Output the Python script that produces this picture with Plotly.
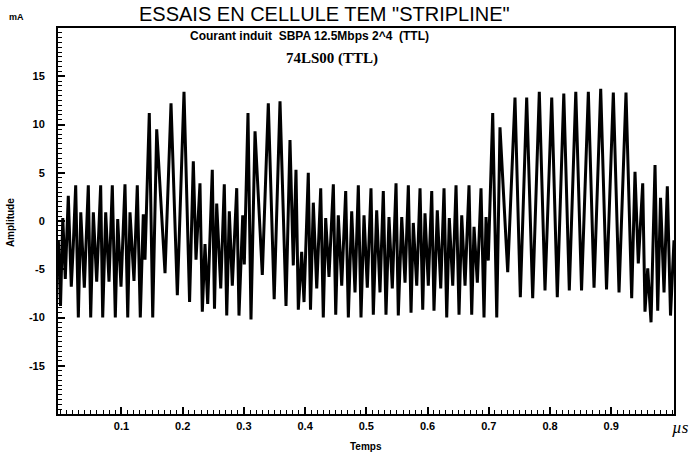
import plotly.graph_objects as go

# Induced current measured in the TEM cell (stripline), 74LS00 driven by a
# 12.5 Mbps 2^4 PRBS. Waveform given as its successive turning points.
temps_us = [
    -0.0030, 0.0005, 0.0042, 0.0083, 0.0132, 0.0181, 0.0214, 0.0253, 0.0296, 0.0336,
    0.0394, 0.0459, 0.0498, 0.0541, 0.0596, 0.0661, 0.0694, 0.0743, 0.0797, 0.0851,
    0.0900, 0.0939, 0.0993, 0.1058, 0.1103, 0.1140, 0.1205, 0.1259, 0.1308, 0.1357,
    0.1385, 0.1455, 0.1511, 0.1576, 0.1712, 0.1810, 0.1913, 0.2022, 0.2113, 0.2174,
    0.2218, 0.2283, 0.2321, 0.2365, 0.2409, 0.2484, 0.2520, 0.2556, 0.2622, 0.2680,
    0.2720, 0.2762, 0.2811, 0.2883, 0.2920, 0.2981, 0.3007, 0.3067, 0.3116, 0.3182,
    0.3301, 0.3399, 0.3495, 0.3590, 0.3688, 0.3753, 0.3807, 0.3851, 0.3889, 0.3944,
    0.3982, 0.4052, 0.4088, 0.4134, 0.4190, 0.4255, 0.4297, 0.4336, 0.4390, 0.4461,
    0.4500, 0.4542, 0.4598, 0.4663, 0.4706, 0.4761, 0.4815, 0.4869, 0.4913, 0.4962,
    0.5016, 0.5076, 0.5114, 0.5169, 0.5223, 0.5277, 0.5321, 0.5370, 0.5424, 0.5485,
    0.5522, 0.5578, 0.5632, 0.5686, 0.5730, 0.5767, 0.5823, 0.5877, 0.5921, 0.5958,
    0.6012, 0.6068, 0.6105, 0.6159, 0.6215, 0.6269, 0.6313, 0.6355, 0.6411, 0.6465,
    0.6514, 0.6558, 0.6612, 0.6677, 0.6721, 0.6759, 0.6813, 0.6873, 0.6922, 0.6955,
    0.6992, 0.7064, 0.7130, 0.7183, 0.7309, 0.7428, 0.7515, 0.7619, 0.7717, 0.7825,
    0.7918, 0.8028, 0.8119, 0.8225, 0.8315, 0.8421, 0.8515, 0.8626, 0.8719, 0.8828,
    0.8923, 0.9034, 0.9127, 0.9241, 0.9334, 0.9388, 0.9442, 0.9514, 0.9551, 0.9596,
    0.9650, 0.9715, 0.9759, 0.9805, 0.9862, 0.9916, 0.9968, 1.0025,
]
courant_mA = [
    -2.0, -8.8, 0.3, -6.0, 2.6, -6.8, -2.5, 3.7, -10.0, 0.9,
    -6.9, 3.7, -10.0, 0.9, -6.3, 3.7, -10.0, 0.9, -6.3, 3.7,
    -10.0, 0.2, -6.8, 3.8, -10.0, 0.9, -6.2, 3.7, -10.0, 0.7,
    -4.0, 11.2, -10.0, 9.5, -5.4, 12.2, -7.7, 13.4, -8.4, 6.2,
    -4.0, 3.9, -9.4, -2.4, -8.6, 5.3, -9.1, 1.8, -7.0, 3.8,
    -9.8, 1.0, -6.7, 3.4, -9.8, 0.6, -4.5, 11.2, -10.2, 9.3,
    -5.6, 12.2, -8.1, 12.4, -8.8, 8.4, -4.6, 5.3, -9.2, -3.2,
    -8.4, 5.0, -9.2, 1.9, -7.0, 3.4, -10.0, 0.3, -5.8, 3.8,
    -9.7, 0.6, -6.7, 3.1, -10.0, 1.0, -7.4, 3.7, -10.0, 0.6,
    -6.9, 3.4, -9.7, 1.1, -7.4, 3.1, -9.7, 0.4, -7.0, 3.9,
    -9.8, 0.4, -6.4, 3.7, -9.5, -0.2, -6.7, 3.4, -9.2, 0.8,
    -6.7, 3.1, -9.3, 1.1, -7.0, 3.4, -10.0, 0.3, -6.7, 3.7,
    -9.7, 0.6, -6.7, 3.7, -9.7, -0.6, -6.4, 3.4, -10.0, 0.4,
    -4.1, 11.2, -10.0, 9.7, -5.3, 12.8, -7.9, 12.8, -8.0, 13.4,
    -7.2, 12.8, -7.9, 13.2, -7.2, 13.4, -7.2, 13.4, -6.9, 13.7,
    -7.1, 13.3, -7.4, 13.3, -8.0, 5.1, -4.4, 3.9, -9.4, -4.9,
    -10.5, 5.8, -9.3, 2.4, -7.4, 3.6, -9.8, -2.0,
]

x_ticks = [0.1, 0.2, 0.3, 0.4, 0.5, 0.6, 0.7, 0.8, 0.9]
x_ticklabels = ["0.1", "0.2", "0.3", "0.4", "0.5", "0.6", "0.7", "0.8", "0.9"]
y_ticks = [-15, -10, -5, 0, 5, 10, 15]
y_ticklabels = ["-15", "-10", "-5", "0", "5", "10", "15"]

SANS = "Liberation Sans"
INK = "#000000"

fig = go.Figure()
fig.add_trace(go.Scatter(
    x=temps_us, y=courant_mA, mode="lines",
    line=dict(color=INK, width=3),
    hoverinfo="skip", showlegend=False, cliponaxis=True,
))

axis_common = dict(
    showgrid=False, zeroline=False, showline=True, mirror=True,
    linecolor=INK, linewidth=2, ticks="inside", tickcolor=INK,
    tickwidth=1.5, ticklen=7,
    tickfont=dict(family=SANS, size=11, color=INK, weight="bold"),
)

fig.update_xaxes(
    range=[-0.0036, 1.0025], tickvals=x_ticks, ticktext=x_ticklabels,
    ticklabelstandoff=1,
    minor=dict(dtick=0.01, tick0=0, ticks="inside", ticklen=4, tickwidth=1, tickcolor=INK),
    **axis_common,
)
fig.update_yaxes(
    range=[-20, 20], tickvals=y_ticks, ticktext=y_ticklabels,
    ticklabelstandoff=9,
    minor=dict(dtick=0.5, tick0=0, ticks="inside", ticklen=4, tickwidth=1, tickcolor=INK),
    **axis_common,
)

annotations = [
    dict(text='ESSAIS EN CELLULE TEM "STRIPLINE"', x=0.4334, y=1.036,
         font=dict(family=SANS, size=20, color=INK)),
    dict(text="Courant induit  SBPA 12.5Mbps 2^4  (TTL)", x=0.4075, y=0.979,
         font=dict(family=SANS, size=12, color=INK, weight="bold")),
    dict(text="74LS00 (TTL)", x=0.4448, y=0.922,
         font=dict(family="Liberation Serif", size=15, color=INK, weight="bold")),
    dict(text="mA", x=-0.068, y=1.028,
         font=dict(family=SANS, size=9, color=INK, weight="bold")),
    dict(text="Amplitude", x=-0.078, y=0.497, textangle=-90,
         font=dict(family=SANS, size=10, color=INK, weight="bold")),
    dict(text="Temps", x=0.5, y=-0.083,
         font=dict(family=SANS, size=10, color=INK, weight="bold")),
    dict(text="<i>µs</i>", x=1.0276, y=-0.034, xanchor="right",
         font=dict(family="Liberation Serif", size=17, color=INK)),
]
for a in annotations:
    a.setdefault("xanchor", "center")
    a.update(xref="paper", yref="paper", yanchor="middle", showarrow=False)

fig.update_layout(
    width=692, height=456,
    margin=dict(l=58, r=18, t=28, b=42),
    paper_bgcolor="white", plot_bgcolor="white",
    annotations=annotations,
)

fig.write_html("out.html")
